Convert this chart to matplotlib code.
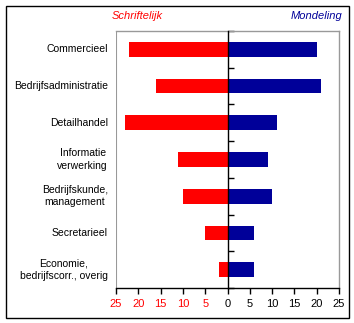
import matplotlib
matplotlib.use("Agg")
import matplotlib.pyplot as plt
import matplotlib.transforms as mtransforms
from matplotlib.patches import Rectangle
import numpy as np

categories = ["Commercieel", "Bedrijfsadministratie", "Detailhandel",
              "Informatie\nverwerking", "Bedrijfskunde,\nmanagement",
              "Secretarieel", "Economie,\nbedrijfscorr., overig"]
schriftelijk = [22, 16, 23, 11, 10, 5, 2]
mondeling = [20, 21, 11, 9, 10, 6, 6]
xticks = [-25, -20, -15, -10, -5, 0, 5, 10, 15, 20, 25]
xticklabels = ["25", "20", "15", "10", "5", "0", "5", "10", "15", "20", "25"]

RED = "#FF0000"
BLUE = "#000099"
W, H = 354, 323
fig = plt.figure(figsize=(W / 100, H / 100), dpi=100)
fig.patch.set_facecolor("white")
plt.rcParams['font.family'] = ['Liberation Sans', 'DejaVu Sans']

# outer frame
fig.patches.append(Rectangle((5.5 / W, 5.5 / H), (W - 11) / W, (H - 11) / H,
                             transform=fig.transFigure, fill=False,
                             edgecolor="black", linewidth=1.0))

L, R, T, B = 116, 339, 31, 288
ax = fig.add_axes([L / W, (H - B) / H, (R - L) / W, (B - T) / H])

n = len(categories)
y = np.arange(n)
ax.barh(y, [-v for v in schriftelijk], height=0.4, color=RED, zorder=2)
ax.barh(y, mondeling, height=0.4, color=BLUE, zorder=2)
ax.set_xlim(-25, 25)
ax.set_ylim(n - 0.5, -0.5)

for s in ["top", "right"]:
    ax.spines[s].set_color("#999999")
    ax.spines[s].set_linewidth(1)
ax.spines["bottom"].set_color("black")
ax.spines["bottom"].set_linewidth(1)
ax.spines["left"].set_position(("data", 0))
ax.spines["left"].set_color("black")
ax.spines["left"].set_linewidth(1)
ax.spines["left"].set_zorder(3)
# gray left border of the plot area
ax.axvline(-25, color="#999999", lw=1.5, zorder=1)

ax.set_yticks(np.arange(n + 1) - 0.5)
ax.set_yticklabels([])
ax.tick_params(axis="y", direction="in", length=4, width=1, color="black")

ax.set_xticks(xticks)
ax.set_xticklabels(xticklabels, fontsize=8)
ax.tick_params(axis="x", direction="out", length=4, width=1, color="black", pad=4)
for lbl, v in zip(ax.get_xticklabels(), xticks):
    lbl.set_color(RED if v < 0 else "black")

trans = mtransforms.blended_transform_factory(fig.transFigure, ax.transData)
for yi, c in zip(y, categories):
    ax.text(108 / W, yi, c, transform=trans, ha="right", va="center",
            fontsize=7.5, linespacing=1.3, multialignment="center")

fig.text(137 / W, 1 - 16 / H, "Schriftelijk", color=RED, style="italic",
         fontsize=8, ha="center", va="center")
fig.text(342 / W, 1 - 16 / H, "Mondeling", color=BLUE, style="italic",
         fontsize=8, ha="right", va="center")

fig.savefig("out.png", dpi=100)
